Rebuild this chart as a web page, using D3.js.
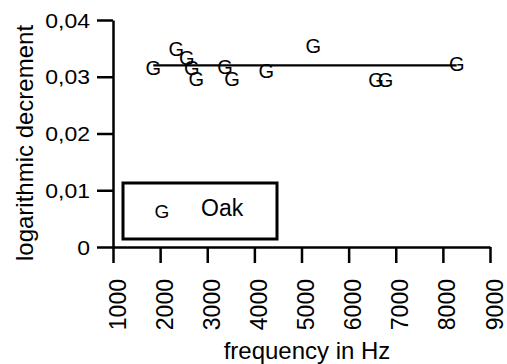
<!DOCTYPE html>
<html>
<head>
<meta charset="utf-8">
<script src="https://cdn.jsdelivr.net/npm/d3@7"></script>
<style>
  body { margin: 0; background: #fff; }
  svg text { font-family: "Liberation Sans", Arial, sans-serif; fill: #000; }
</style>
</head>
<body>
<svg id="chart"></svg>
<script>
// measured points (Oak)
const frequency = [1855, 2343, 2564, 2670, 2768, 3377, 3525, 4251, 5250, 6581, 6782, 8293];
const decrement = [0.0315, 0.0349, 0.0334, 0.0315, 0.0296, 0.0318, 0.0296, 0.0310, 0.0355, 0.0295, 0.0295, 0.0322];

// horizontal fit line
const fitFreq = [1855, 8293];
const fitDecrement = [0.0320, 0.0320];

const xTicks = [1000, 2000, 3000, 4000, 5000, 6000, 7000, 8000, 9000];
const xTickLabels = ["1000", "2000", "3000", "4000", "5000", "6000", "7000", "8000", "9000"];
const yTicks = [0, 0.01, 0.02, 0.03, 0.04];
const yTickLabels = ["0", "0,01", "0,02", "0,03", "0,04"];

const seriesName = "Oak";
const markerSymbol = "G";

const w = 507;
const h = 364;

let svg = d3.select("#chart").attr("width", w).attr("height", h);

let xScale = d3.scaleLinear().domain([1000, 9000]).range([113, 490]);
let yScale = d3.scaleLinear().domain([0, 0.04]).range([247, 20]);

// y axis
let yAxis = d3.axisLeft(yScale)
  .tickValues(yTicks)
  .tickFormat((d, i) => yTickLabels[i])
  .tickSize(16)
  .tickSizeOuter(0);

let gy = svg.append("g")
  .attr("transform", "translate(113,0)")
  .call(yAxis);
gy.selectAll("text")
  .attr("x", 0)
  .attr("dy", "0.36em")
  .attr("text-anchor", "end")
  .attr("transform", "translate(-23,0) scale(1.15,1)")
  .style("font-size", "20px");

// x axis
let xAxis = d3.axisBottom(xScale)
  .tickValues(xTicks)
  .tickFormat((d, i) => xTickLabels[i])
  .tickSize(16)
  .tickSizeOuter(0);

let gx = svg.append("g")
  .attr("transform", "translate(0,247)")
  .call(xAxis);
gx.selectAll("text")
  .attr("transform", "rotate(-90)")
  .attr("x", -32)
  .attr("y", 12)
  .attr("dy", 0)
  .attr("text-anchor", "end")
  .style("font-size", "23px");

svg.selectAll(".domain, .tick line")
  .attr("stroke", "#000")
  .attr("stroke-width", 2.5);

// axis titles
svg.append("text")
  .attr("transform", "translate(307,359)")
  .attr("text-anchor", "middle")
  .style("font-size", "24px")
  .text("frequency in Hz");

svg.append("text")
  .attr("transform", "translate(33,143) rotate(-90)")
  .attr("text-anchor", "middle")
  .style("font-size", "24px")
  .text("logarithmic decrement");

// fit line
let line = d3.line()
  .x((d, i) => xScale(fitFreq[i]))
  .y((d, i) => yScale(fitDecrement[i]));

svg.append("path")
  .datum(fitFreq)
  .attr("d", line)
  .attr("fill", "none")
  .attr("stroke", "#000")
  .attr("stroke-width", 2.2);

// markers
svg.selectAll(".marker")
  .data(frequency)
  .enter()
  .append("text")
  .attr("class", "marker")
  .attr("x", (d) => xScale(d))
  .attr("y", (d, i) => yScale(decrement[i]))
  .attr("dy", "0.36em")
  .attr("text-anchor", "middle")
  .style("font-size", "20px")
  .text(markerSymbol);

// legend
let legend = svg.append("g");
legend.append("rect")
  .attr("x", 123)
  .attr("y", 183)
  .attr("width", 154)
  .attr("height", 56)
  .attr("fill", "#fff")
  .attr("stroke", "#000")
  .attr("stroke-width", 3);
legend.append("text")
  .attr("x", 162)
  .attr("y", 218)
  .attr("text-anchor", "middle")
  .style("font-size", "19px")
  .text(markerSymbol);
legend.append("text")
  .attr("x", 201)
  .attr("y", 216)
  .style("font-size", "23px")
  .text(seriesName);
</script>
</body>
</html>
